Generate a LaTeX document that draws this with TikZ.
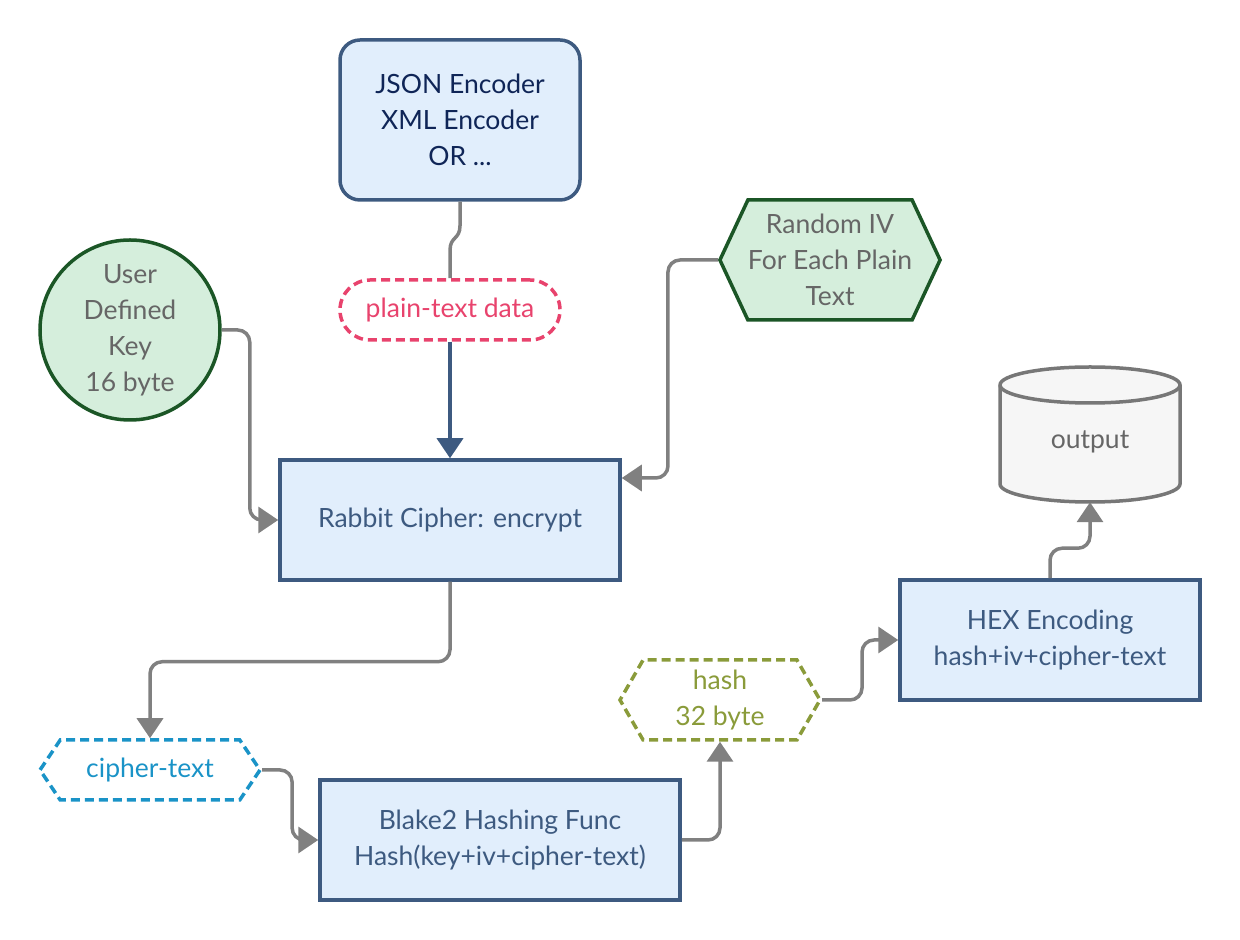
\documentclass[tikz,border=0pt]{standalone}
\usepackage{fontspec}
\setmainfont{Lato}
\usetikzlibrary{arrows.meta,shapes.geometric,shapes.symbols,positioning}
\definecolor{boxfill}{HTML}{E1EEFC}
\definecolor{boxline}{HTML}{3D5A80}
\definecolor{enctext}{HTML}{0F2557}
\definecolor{grnfill}{HTML}{D5EEDC}
\definecolor{grnline}{HTML}{1B5626}
\definecolor{softtext}{HTML}{666666}
\definecolor{pinkline}{HTML}{E8436D}
\definecolor{cyanline}{HTML}{1A93C7}
\definecolor{oliveline}{HTML}{8A9B3A}
\definecolor{linkgray}{HTML}{808080}
\definecolor{cylfill}{HTML}{F6F6F6}
\definecolor{cylline}{HTML}{777777}

\begin{document}
\begin{tikzpicture}[x=1pt,y=1pt,font=\fontsize{26.5}{36}\selectfont,
  box/.style={draw=boxline,fill=boxfill,line width=3.5pt,text=boxline,align=center,minimum width=#1,minimum height=120pt,inner sep=0pt},
  hexa/.style={shape=signal,signal to=east and west,signal pointer angle=#1,align=center,inner sep=0pt,line width=3.5pt},
  dashy/.style={dash pattern=on 9pt off 5pt},
  link/.style={draw=linkgray,line width=3.5pt,rounded corners=12pt,-{Triangle[length=20pt,width=26pt]}}]
\useasboundingbox (0,0) rectangle (1240,940);
\node[box=240pt,minimum height=160pt,rounded corners=20pt,text=enctext] (enc) at (460,820) {JSON Encoder\\XML Encoder\\OR ...};
\node[draw=pinkline,dashy,line width=3.5pt,rounded corners=30pt,minimum width=220pt,minimum height=60pt,text=pinkline] (plain) at (450,630) {plain-text data};
\node[box=340pt] (rabbit) at (450,420) {Rabbit Cipher: encrypt};
\node[circle,draw=grnline,fill=grnfill,line width=3.5pt,minimum size=180pt,align=center,inner sep=0pt,text=softtext] (key) at (130,610) {User\\Defined\\Key\\16 byte};
\node[hexa=130,draw=grnline,fill=grnfill,minimum width=220pt,minimum height=120pt,text=softtext] (iv) at (830,680) {Random IV\\For Each Plain\\Text};
\node[box=300pt] (hex) at (1050,300) {HEX Encoding\\hash+iv+cipher-text};
\node[hexa=120,draw=oliveline,dashy,minimum width=200pt,minimum height=80pt,text=oliveline] (hash) at (720,240) {hash\\32 byte};
\node[hexa=112,draw=cyanline,dashy,minimum width=220pt,minimum height=60pt,text=cyanline] (ciph) at (150,170) {cipher-text};
\node[box=360pt] (blake) at (500,100) {Blake2 Hashing Func\\Hash(key+iv+cipher-text)};
\draw[draw=cylline,fill=cylfill,line width=3.5pt] (1000,555) -- (1000,456) arc[start angle=180,end angle=360,x radius=90pt,y radius=18pt] -- (1180,555) arc[start angle=0,end angle=180,x radius=90pt,y radius=18pt] -- cycle;
\draw[draw=cylline,line width=3.5pt] (1000,555) arc[start angle=180,end angle=360,x radius=90pt,y radius=18pt];
\node[minimum width=180pt,minimum height=120pt,text=softtext] (out) at (1090,498) {output};
\draw[link,-,sharp corners] (enc.south) -- ++(0,-24) .. controls +(0,-14) and +(0,14) .. ([yshift=28pt]plain.north) -- (plain.north);
\draw[link,draw=boxline,sharp corners] (plain.south) -- (rabbit.north);
\draw[link] (key.east) -- ++(28,0) |- (rabbit.west);
\draw[link] (iv.west) -- ++(-50,0) |- ([yshift=42pt]rabbit.east);
\draw[link] (rabbit.south) -- ++(0,-80) -| (ciph.north);
\draw[link] (ciph.east) -- ++(30,0) |- (blake.west);
\draw[link] (blake.east) -| (hash.south);
\draw[link] (hash.east) -- ++(40,0) |- (hex.west);
\draw[link] (hex.north) -- ++(0,30) -| (out.south);
\end{tikzpicture}
\end{document}
